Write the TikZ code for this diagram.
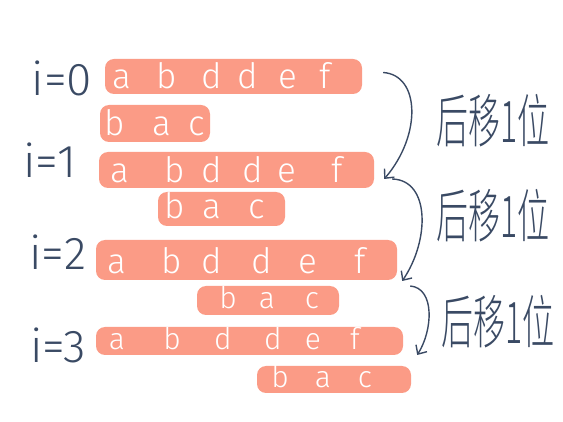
\documentclass[tikz,border=0pt]{standalone}
\usepackage{fontspec}
\newfontfamily\handfont{Fira Sans Light}
\newfontfamily\cjkfont{Noto Sans CJK SC Light}
\usepackage{xcolor}
\usepackage{tikz}
\usetikzlibrary{calc, arrows.meta}
\definecolor{barfill}{HTML}{FB9B86}
\definecolor{ink}{HTML}{3A4A64}
\tikzset{
  bar/.style={fill=barfill, rounded corners=9pt, inner sep=0pt},
  letter/.style={text=white, anchor=base, inner sep=0pt, font=\handfont\fontsize{35}{35}\selectfont},
  smallletter/.style={letter, font=\handfont\fontsize{30}{30}\selectfont},
  steplabel/.style={text=ink, font=\handfont\fontsize{46}{46}\selectfont},
  shiftnote/.style={text=ink, font=\cjkfont\fontsize{32}{32}\selectfont, yscale=1.8, transform shape},
  shiftarrow/.style={ink, line width=1.4pt, -{Straight Barb[length=7pt, width=13pt]}}
}

\begin{document}
\begin{tikzpicture}[x=1pt, y=-1pt]
    \useasboundingbox (0,0) rectangle (563,422);
    % text bars and pattern bars
    \node[bar, minimum width=257, minimum height=35] (s0) at (233.5,76.5) {};
    \node[bar, minimum width=110, minimum height=37] (p0) at (155,123.5) {};
    \node[bar, minimum width=275, minimum height=36] (s1) at (236.5,170) {};
    \node[bar, minimum width=127, minimum height=34] (p1) at (221.5,209) {};
    \node[bar, minimum width=301, minimum height=40] (s2) at (246.5,260) {};
    \node[bar, minimum width=142, minimum height=29] (p2) at (268,300.5) {};
    \node[bar, minimum width=307, minimum height=28] (s3) at (249.5,341) {};
    \node[bar, minimum width=154, minimum height=27] (p3) at (334,379.5) {};
    % letters
    \foreach \ch/\x [count=\k] in {a/122, b/167, d/212, d/248, e/288, f/325}
        \node[letter] (s0l\k) at (\x,89) {\ch};
    \foreach \ch/\x [count=\k] in {b/115, a/162, c/197}
        \node[letter] (p0l\k) at (\x,136) {\ch};
    \foreach \ch/\x [count=\k] in {a/120, b/175, d/212, d/253, e/287, f/337}
        \node[letter] (s1l\k) at (\x,183) {\ch};
    \foreach \ch/\x [count=\k] in {b/175, a/212, c/257}
        \node[letter] (p1l\k) at (\x,219) {\ch};
    \foreach \ch/\x [count=\k] in {a/117, b/172, d/212, d/262, e/308, f/360}
        \node[letter] (s2l\k) at (\x,274) {\ch};
    \foreach \ch/\x [count=\k] in {b/228, a/267, c/312}
        \node[smallletter] (p2l\k) at (\x,309) {\ch};
    \foreach \ch/\x [count=\k] in {a/117, b/172, d/223, d/273, e/313, f/355}
        \node[smallletter] (s3l\k) at (\x,350) {\ch};
    \foreach \ch/\x [count=\k] in {b/280, a/323, c/365}
        \node[smallletter] (p3l\k) at (\x,388) {\ch};
    % step labels
    \node[steplabel] (i0) at (62,78) {i=0};
    \node[steplabel] (i1) at (50,160) {i=1};
    \node[steplabel] (i2) at (58,252) {i=2};
    \node[steplabel] (i3) at (58,345) {i=3};
    % shift arrows
    \coordinate (c0) at ($(s0.east)+(21,-4)$);
    \coordinate (c1) at ($(s1.east)+(10,9)$);
    \coordinate (c2) at ($(s1.east)+(18,9)$);
    \coordinate (c3) at ($(s2.east)+(5,21)$);
    \coordinate (c4) at ($(s2.east)+(13,26)$);
    \coordinate (c5) at ($(s3.east)+(14,14)$);
    \draw[shiftarrow] (c0) .. controls (420,75) and (422,135) .. (c1);
    \draw[shiftarrow] (c2) .. controls (430,180) and (430,240) .. (c3);
    \draw[shiftarrow] (c4) .. controls (435,288) and (433,330) .. (c5);
    \node[shiftnote] (n0) at (493,121) {后移1位};
    \node[shiftnote] (n1) at (493,216) {后移1位};
    \node[shiftnote] (n2) at (498,322) {后移1位};
\end{tikzpicture}
\end{document}
